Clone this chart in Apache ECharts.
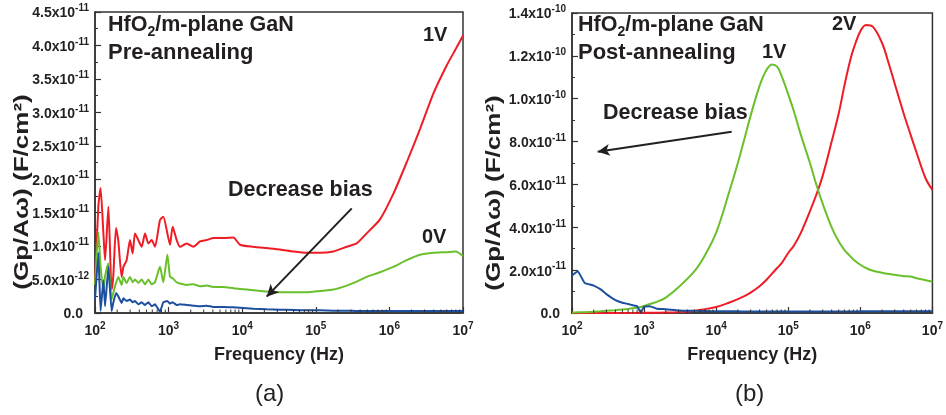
<!DOCTYPE html>
<html>
<head>
<meta charset="utf-8">
<script src="https://cdn.jsdelivr.net/npm/echarts@6/dist/echarts.min.js"></script>
<style>
  html, body { margin: 0; padding: 0; background: #ffffff; }
  #chart { width: 946px; height: 415px; }
</style>
</head>
<body>
<div id="chart"></div>
<script>
// ---------- (a) Pre-annealing: Gp/(A·ω) vs frequency, values in 1e-12 F/cm² ----------
const freqA = [100, 111, 119, 130, 137, 152, 168, 177, 193, 207, 230, 243, 269, 299, 325, 349,
  388, 431, 478, 531, 589, 653, 764, 847, 962, 1045, 1135, 1288, 1429, 1758, 2168, 2673, 3289,
  4055, 5546, 7586, 9333, 14160, 21480, 32660, 49550, 75160, 114000, 173000, 262400, 358900,
  490900, 744700, 1130000, 1714000, 2606000, 3954000, 5998000, 8000000, 10000000];
const red1VPre = [4.5, 15.9, 18.7, 11.9, 7.9, 15.9, 3.5, 5.4, 12.7, 10.9, 5.4, 6.9, 7.9, 10.9, 8.9, 11.9,
  10.9, 9.9, 11.9, 10.4, 10.9, 9.9, 13.9, 14.4, 11.9, 10.2, 12.9, 10.9, 9.9, 10.4, 9.9, 10.7, 10.9,
  11.2, 11.2, 11.3, 10.2, 9.9, 9.7, 9.5, 9.2, 9.0, 9.0, 9.2, 9.9, 10.4,
  11.9, 14.0, 17.8, 22.5, 27.5, 32.8, 37.0, 39.5, 41.5];
const green0VPre = [4.2, 12.0, 7.0, 3.4, 5.5, 7.4, 2.0, 3.0, 4.5, 5.4, 4.2, 5.4, 4.5, 5.4, 4.6, 5.0,
  4.5, 5.0, 4.3, 5.0, 4.3, 4.6, 6.9, 4.6, 8.7, 5.4, 5.2, 4.6, 4.4, 4.2, 4.3, 4.0, 4.1,
  3.9, 3.9, 3.7, 3.6, 3.4, 3.2, 3.1, 3.1, 3.1, 3.3, 3.5, 4.1, 4.7,
  5.4, 6.1, 6.9, 7.9, 8.7, 9.0, 9.1, 9.2, 8.5];
const blueLowPre = [2.0, 9.0, 0.3, 4.9, 1.0, 6.9, 0.3, 1.5, 3.0, 2.5, 1.5, 2.2, 1.8, 2.0, 1.6, 1.8,
  1.3, 1.6, 1.2, 1.6, 1.0, 1.3, 0.2, 1.6, 1.8, 1.4, 1.6, 1.2, 1.3, 1.2, 1.1, 1.0, 1.1,
  0.9, 0.9, 0.85, 0.8, 0.65, 0.55, 0.5, 0.45, 0.4, 0.4, 0.35, 0.35, 0.3,
  0.3, 0.3, 0.3, 0.3, 0.3, 0.3, 0.3, 0.3, 0.3];
const UNIT_A = 1e-12;

// ---------- (b) Post-annealing, values in 1e-11 F/cm² ----------
const freqB = [100, 120, 150, 200, 250, 300, 400, 500, 600, 700, 800, 900,
  1000, 1200, 1500, 2000, 3000, 5000, 7000,
  1e4, 1.5e4, 2e4, 2.5e4, 3e4, 4e4, 5e4, 6e4, 7e4, 8e4,
  1e5, 1.2e5, 1.5e5, 2e5, 2.5e5, 3e5, 4e5, 5e5, 6e5, 7e5, 8e5,
  1e6, 1.2e6, 1.5e6, 2e6, 2.5e6, 3e6, 4e6, 5e6, 6e6, 8e6, 1e7];
const green1VPost = [0.02, 0.03, 0.04, 0.06, 0.08, 0.10, 0.13, 0.16, 0.19, 0.22, 0.25, 0.28,
  0.33, 0.42, 0.52, 0.72, 1.2, 1.95, 2.7,
  3.75, 5.6, 7.0, 8.2, 9.2, 10.6, 11.35, 11.6, 11.5, 11.1,
  10.2, 9.4, 8.3, 7.0, 5.9, 5.1, 4.0, 3.35, 2.95, 2.7, 2.5,
  2.25, 2.1, 1.97, 1.88, 1.82, 1.78, 1.72, 1.7, 1.62, 1.53, 1.46];
const red2VPost = [0, 0, 0, 0, 0, 0, 0, 0, 0, 0.005, 0.005, 0.01,
  0.01, 0.01, 0.015, 0.02, 0.04, 0.1, 0.18,
  0.28, 0.48, 0.65, 0.8, 0.95, 1.25, 1.55, 1.85, 2.1, 2.3,
  2.8, 3.15, 3.75, 4.75, 5.6, 6.4, 8.0, 9.3, 10.6, 11.6, 12.3,
  13.15, 13.44, 13.35, 12.6, 11.6, 10.7, 9.3, 8.3, 7.5, 6.3, 5.74];
const blueLowPost = [1.75, 1.95, 1.4, 1.28, 1.1, 0.88, 0.6, 0.48, 0.42, 0.36, 0.32, 0.02,
  0.3, 0.32, 0.2, 0.18, 0.12, 0.1, 0.09,
  0.08, 0.08, 0.08, 0.07, 0.07, 0.07, 0.07, 0.07, 0.07, 0.07,
  0.07, 0.07, 0.07, 0.07, 0.07, 0.07, 0.07, 0.07, 0.07, 0.07, 0.07,
  0.08, 0.08, 0.08, 0.08, 0.08, 0.08, 0.08, 0.08, 0.08, 0.08, 0.08];
const UNIT_B = 1e-11;

// "Decrease bias" arrows, [frequency, value] from tail to head
const arrowPre = [[3.08e5, 15.65e-12], [2.15e4, 2.44e-12]];
const arrowPost = [[1.64e4, 8.46e-11], [227, 7.53e-11]];

// Minor tick positions on the log frequency axis (2..9 in each decade)
const minorFreqs = [];
for (let e = 2; e < 7; e++) {
  for (let m = 2; m <= 9; m++) minorFreqs.push(m * Math.pow(10, e));
}

const FONT = "'Liberation Sans', Arial, Helvetica, sans-serif";
const INK = '#231f20';
const FRAME = '#333333';
const RED = '#ee1c24';
const GREEN = '#6abf2c';
const BLUE = '#1d4f9f';
const Y_TITLE = '(Gp/A\u03c9) (F/cm\u00b2)';

function sciLabel(v) {
  if (Math.abs(v) < 1e-30) return '{z|0.0}';
  const parts = v.toExponential(1).split('e');
  return '{m|' + parts[0] + 'x10}{s|' + parseInt(parts[1], 10) + '}';
}
function decadeLabel(v) {
  return '{m|10}{s|' + Math.round(Math.log10(v)) + '}';
}
const tickRich = {
  m: { fontFamily: FONT, fontWeight: 'bold', fontSize: 14, color: INK, lineHeight: 17, verticalAlign: 'bottom' },
  s: { fontFamily: FONT, fontWeight: 'bold', fontSize: 10, color: INK, lineHeight: 17, verticalAlign: 'top' },
  z: { fontFamily: FONT, fontWeight: 'bold', fontSize: 14, color: INK, lineHeight: 17, verticalAlign: 'bottom', padding: [0, 6, 0, 0] }
};

function makeX(i) {
  return {
    type: 'log', gridIndex: i, min: 100, max: 1e7, logBase: 10,
    name: 'Frequency (Hz)', nameLocation: 'middle', nameGap: 33,
    nameTextStyle: { fontFamily: FONT, fontWeight: 'bold', fontSize: 18, color: INK },
    axisLine: { show: true, lineStyle: { color: FRAME, width: 1.5 } },
    axisTick: { show: true, inside: true, length: 6, lineStyle: { color: FRAME, width: 1.2 } },
    minorTick: { show: false },
    splitLine: { show: false },
    axisLabel: { margin: 8, formatter: decadeLabel, rich: tickRich }
  };
}
function makeY(i, max, interval) {
  return {
    type: 'value', gridIndex: i, min: 0, max: max, interval: interval,
    axisLine: { show: true, lineStyle: { color: FRAME, width: 1.5 } },
    axisTick: { show: true, inside: true, length: 6, lineStyle: { color: FRAME, width: 1.2 } },
    minorTick: { show: true, splitNumber: 2, length: 3, lineStyle: { color: FRAME, width: 1 } },
    splitLine: { show: false },
    axisLabel: { margin: 6, formatter: sciLabel, rich: tickRich }
  };
}

function line(gi, freqs, vals, unit, color, smooth, extra) {
  return Object.assign({
    type: 'line', xAxisIndex: gi, yAxisIndex: gi,
    data: freqs.map((f, k) => [f, vals[k] * unit]),
    showSymbol: false, symbol: 'none', silent: true, smooth: smooth,
    lineStyle: { color: color, width: 2 }, itemStyle: { color: color }
  }, extra || {});
}
function arrow(pts) {
  return {
    silent: true, symbol: ['none', 'arrow'], symbolSize: [9, 12],
    lineStyle: { color: INK, width: 2, type: 'solid' },
    label: { show: false },
    data: [[{ coord: pts[0] }, { coord: pts[1] }]]
  };
}
function minorTicks(gi) {
  return {
    type: 'custom', xAxisIndex: gi, yAxisIndex: gi, silent: true, clip: false, z: 5,
    data: minorFreqs.map(f => [f, 0]),
    renderItem: function (params, api) {
      const p = api.coord([api.value(0), 0]);
      return { type: 'line', shape: { x1: p[0], y1: p[1], x2: p[0], y2: p[1] - 3.5 },
        style: { stroke: FRAME, lineWidth: 1 } };
    }
  };
}

function titleText(left, top, second) {
  return [
    { type: 'text', left: left, top: top, silent: true,
      style: { text: '{n|HfO}{d|2}{n|/m-plane GaN}', fill: INK,
        rich: {
          n: { fontFamily: FONT, fontWeight: 'bold', fontSize: 21.5, lineHeight: 25, verticalAlign: 'top', fill: INK },
          d: { fontFamily: FONT, fontWeight: 'bold', fontSize: 14, lineHeight: 25, verticalAlign: 'bottom', fill: INK }
        } } },
    { type: 'text', left: left, top: top + 28, silent: true,
      style: { text: second, font: 'bold 22px ' + FONT, fill: INK } }
  ];
}
function label(text, left, top, size) {
  return { type: 'text', left: left, top: top, silent: true,
    style: { text: text, font: 'bold ' + (size || 20) + 'px ' + FONT, fill: INK } };
}
// Vertical axis title, stretched along its length
function yTitle(cx, cy) {
  return { type: 'text', x: cx, y: cy, rotation: Math.PI / 2, scaleX: 1.24, scaleY: 1, silent: true,
    style: { text: Y_TITLE, font: 'bold 21px ' + FONT, fill: INK,
      align: 'center', verticalAlign: 'middle', textAlign: 'center', textVerticalAlign: 'middle' } };
}

const chart = echarts.init(document.getElementById('chart'), null, { renderer: 'canvas' });
chart.setOption({
  animation: false,
  backgroundColor: '#ffffff',
  grid: [
    { left: 95, top: 12, width: 368, height: 301, show: true, borderColor: FRAME, borderWidth: 1.5, backgroundColor: 'transparent' },
    { left: 572, top: 13, width: 368, height: 300, show: true, borderColor: FRAME, borderWidth: 1.5, backgroundColor: 'transparent' }
  ],
  xAxis: [makeX(0), makeX(1)],
  yAxis: [makeY(0, 4.5e-11, 5e-12), makeY(1, 1.4e-10, 2e-11)],
  series: [
    line(0, freqA, red1VPre, UNIT_A, RED, 0.2),
    line(0, freqA, green0VPre, UNIT_A, GREEN, 0.2),
    line(0, freqA, blueLowPre, UNIT_A, BLUE, 0.1, { markLine: arrow(arrowPre) }),
    minorTicks(0),
    line(1, freqB, red2VPost, UNIT_B, RED, 0.35),
    line(1, freqB, green1VPost, UNIT_B, GREEN, 0.35),
    line(1, freqB, blueLowPost, UNIT_B, BLUE, 0.1, { markLine: arrow(arrowPost) }),
    minorTicks(1)
  ],
  graphic: [].concat(
    titleText(108, 14, 'Pre-annealing'),
    titleText(578, 14, 'Post-annealing'),
    [
      yTitle(22, 192),
      yTitle(494, 193),
      label('1V', 423, 25),
      label('0V', 422, 227),
      label('Decrease bias', 228, 179, 21.5),
      label('1V', 762, 42),
      label('2V', 832, 14),
      label('Decrease bias', 603, 102, 21.5),
      { type: 'text', left: 255, top: 382, silent: true, style: { text: '(a)', font: '24px ' + FONT, fill: INK } },
      { type: 'text', left: 735, top: 382, silent: true, style: { text: '(b)', font: '24px ' + FONT, fill: INK } }
    ]
  )
});
</script>
</body>
</html>
